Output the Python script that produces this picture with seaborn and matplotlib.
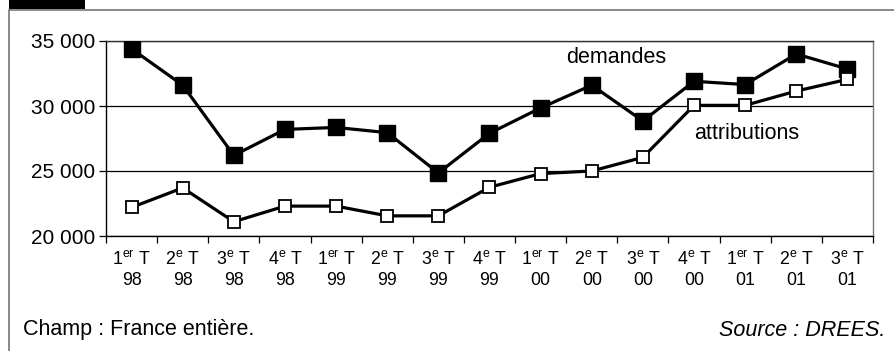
import matplotlib
matplotlib.use("Agg")
import matplotlib.pyplot as plt
import seaborn as sns
import pandas as pd
import numpy as np
from matplotlib.patches import Rectangle
from matplotlib.lines import Line2D

quarters = ["1er T", "2e T", "3e T", "4e T", "1er T", "2e T", "3e T", "4e T",
            "1er T", "2e T", "3e T", "4e T", "1er T", "2e T", "3e T"]
years = ["98", "98", "98", "98", "99", "99", "99", "99",
         "00", "00", "00", "00", "01", "01", "01"]
demandes = [34400, 31600, 26200, 28200, 28350, 27950, 24850, 27900,
            29850, 31600, 28850, 31900, 31650, 34000, 32850]
attributions = [22200, 23700, 21100, 22300, 22300, 21550, 21550, 23750,
                24800, 25000, 26050, 30050, 30050, 31150, 32050]
yticks = [20000, 25000, 30000, 35000]
ytick_labels = ["20 000", "25 000", "30 000", "35 000"]

sns.set_theme(style="white")
plt.rcParams["font.family"] = ["Liberation Sans", "DejaVu Sans"]
plt.rcParams["mathtext.fontset"] = "custom"
plt.rcParams["mathtext.rm"] = "Liberation Sans"
plt.rcParams["mathtext.it"] = "Liberation Sans:italic"

W, H = 895, 351
fig = plt.figure(figsize=(W / 100, H / 100), dpi=100)
ax = fig.add_axes([106 / W, (H - 236) / H, (873 - 106) / W, (236 - 41) / H])

idx = list(range(len(quarters)))
df = pd.DataFrame({"x": idx, "demandes": demandes, "attributions": attributions})

for yv in yticks:
    ax.axhline(yv, color="black", lw=0.9, zorder=1)

sns.lineplot(data=df, x="x", y="demandes", ax=ax, color="black", lw=2.3,
             marker="s", markersize=11.5, markerfacecolor="black",
             markeredgecolor="black", markeredgewidth=1, zorder=3)
sns.lineplot(data=df, x="x", y="attributions", ax=ax, color="black", lw=2.3,
             marker="s", markersize=8.5, markerfacecolor="white",
             markeredgecolor="black", markeredgewidth=1.3, zorder=3)

ax.set_xlim(-0.5, len(quarters) - 0.5)
ax.set_ylim(20000, 35000)
ax.set_xlabel("")
ax.set_ylabel("")

ax.set_yticks(yticks)
ax.set_yticklabels(ytick_labels, fontsize=15)
ax.tick_params(axis="y", which="major", left=True, length=5, width=0.9,
               color="black", pad=3, labelcolor="black")

def qlabel(q, y):
    num, suf = q.split(" ")[0][0], q.split(" ")[0][1:]
    return num + r"$^{\mathrm{" + suf + r"}}$" + " T\n" + y

ax.set_xticks(idx)
ax.set_xticklabels([qlabel(q, y) for q, y in zip(quarters, years)],
                   fontsize=12.8, linespacing=1.3)
ax.set_xticks(np.arange(-0.5, len(quarters), 1.0), minor=True)
ax.tick_params(axis="x", which="major", length=0, pad=10, labelcolor="black")
ax.tick_params(axis="x", which="minor", bottom=True, length=5, width=0.9,
               color="black")

for s in ["left", "bottom"]:
    ax.spines[s].set_color("black")
    ax.spines[s].set_linewidth(1.0)
ax.spines["top"].set_color("#333333")
ax.spines["top"].set_linewidth(1.0)
ax.spines["right"].set_color("#777777")
ax.spines["right"].set_linewidth(1.0)
ax.spines["right"].set_visible(True)
ax.spines["top"].set_visible(True)

ax.text(9.47, 33700, "demandes", fontsize=15.5, ha="center", va="center", color="black")
ax.text(12.02, 27850, "attributions", fontsize=15.5, ha="center", va="center", color="black")

# outer frame
fig.add_artist(Rectangle((9 / W, (H - 9) / H), 76 / W, 9 / H, transform=fig.transFigure,
                         facecolor="black", edgecolor="none"))
fig.add_artist(Line2D([9 / W, 1], [(H - 10) / H] * 2, transform=fig.transFigure,
                      color="#808080", lw=1.3))
fig.add_artist(Line2D([9 / W] * 2, [0, (H - 10) / H], transform=fig.transFigure,
                      color="#808080", lw=1.3))

fig.text(23 / W, (H - 330) / H, "Champ : France entière.", fontsize=15.5,
         ha="left", va="center", color="black")
fig.text(885 / W, (H - 330) / H, "Source : DREES.", fontsize=15.5, style="italic",
         ha="right", va="center", color="black")

fig.savefig("out.png", dpi=100)
